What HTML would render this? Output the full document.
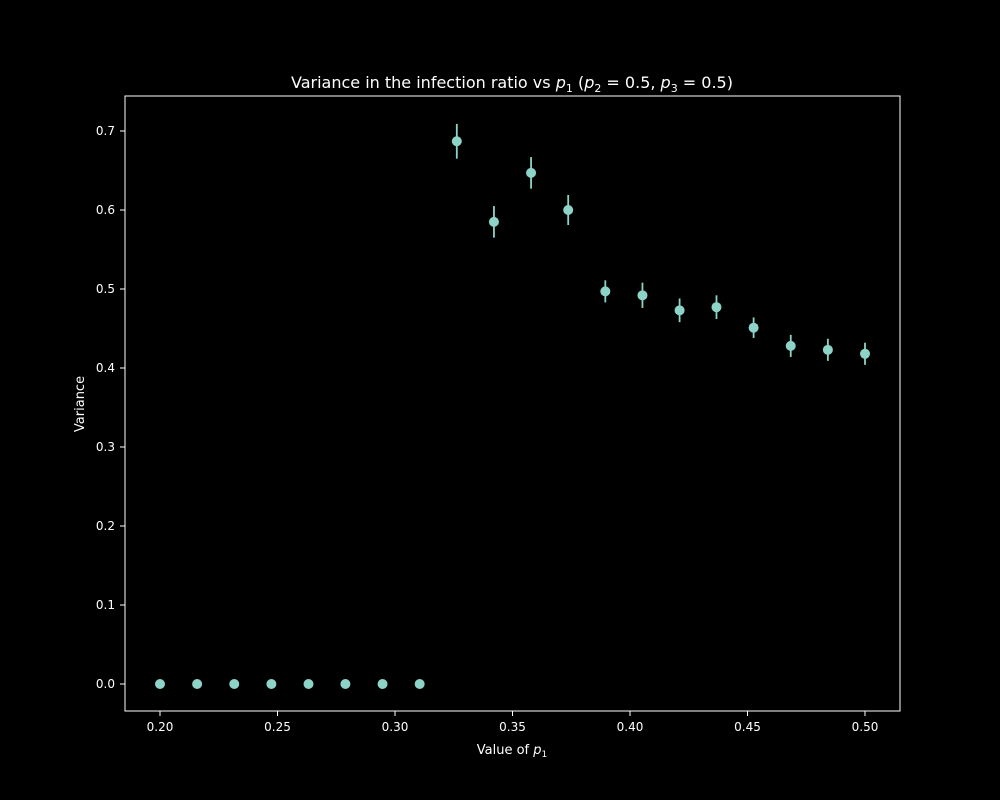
<!DOCTYPE html>
<html><head><meta charset="utf-8"><style>
html,body{margin:0;padding:0;background:#000;}
svg{display:block;font-family:"DejaVu Sans","Liberation Sans",sans-serif;}
</style></head><body>
<svg id="chart" width="1000" height="800" viewBox="0 0 1000 800">
<rect x="0" y="0" width="1000" height="800" fill="#000"/>
<text x="512" y="88" fill="#fff" font-size="16" text-anchor="middle">Variance in the infection ratio vs <tspan font-style="italic">p</tspan><tspan font-size="11" dy="4">1</tspan><tspan dy="-4"> (</tspan><tspan font-style="italic">p</tspan><tspan font-size="11" dy="4">2</tspan><tspan dy="-4"> = 0.5, </tspan><tspan font-style="italic">p</tspan><tspan font-size="11" dy="4">3</tspan><tspan dy="-4"> = 0.5)</tspan></text>
<g id="axes"></g>
<g id="marks"></g>
<rect x="125" y="96" width="775" height="615" fill="none" stroke="#fff" stroke-width="1"/>
<text x="512" y="754" fill="#fff" font-size="13" text-anchor="middle">Value of <tspan font-style="italic">p</tspan><tspan font-size="9" dy="3">1</tspan></text>
<text x="0" y="0" fill="#fff" font-size="13" text-anchor="middle" transform="translate(84,404) rotate(-90)">Variance</text>
</svg>
<script>
const xValues=[0.2,0.2158,0.2316,0.2474,0.2632,0.2789,0.2947,0.3105,0.3263,0.3421,0.3579,0.3737,0.3895,0.4053,0.4211,0.4368,0.4526,0.4684,0.4842,0.5];
const yValues=[0,0,0,0,0,0,0,0,0.687,0.585,0.647,0.600,0.497,0.492,0.473,0.477,0.451,0.428,0.423,0.418];
const yErrors=[0,0,0,0,0,0,0,0,0.022,0.020,0.020,0.019,0.014,0.016,0.015,0.015,0.013,0.014,0.014,0.014];
const xTicks=[0.20,0.25,0.30,0.35,0.40,0.45,0.50];
const yTicks=[0.0,0.1,0.2,0.3,0.4,0.5,0.6,0.7];
const NS='http://www.w3.org/2000/svg';
function xs(v){return 160+(v-0.2)*(705/0.3);}
function ys(v){return 684-v*790;}
const axes=document.getElementById('axes'),marks=document.getElementById('marks');
function mk(tag,attrs,parent){const e=document.createElementNS(NS,tag);for(const k in attrs)e.setAttribute(k,attrs[k]);parent.appendChild(e);return e;}
xTicks.forEach(t=>{
  const x=xs(t);
  const l=mk('line',{x1:x,x2:x,y1:711,y2:716,stroke:'#fff'},axes);
  
  
  const tx=mk('text',{x:x,y:731,fill:'#fff','font-size':12,'text-anchor':'middle'},axes);
  tx.textContent=t.toFixed(2);
  
  
});
yTicks.forEach(t=>{
  const y=ys(t);
  const l=mk('line',{x1:120,x2:125,y1:y,y2:y,stroke:'#fff'},axes);
  
  
  const tx=mk('text',{x:115,y:y+4,fill:'#fff','font-size':12,'text-anchor':'end'},axes);
  tx.textContent=t.toFixed(1);
  
  
});
xValues.forEach((xv,i)=>{
  const x=xs(xv),y=ys(yValues[i]);
  if(yErrors[i]>0){
    const e=mk('line',{x1:x,x2:x,y1:ys(yValues[i]+yErrors[i]),y2:ys(yValues[i]-yErrors[i]),stroke:'#8dd3c7','stroke-width':1.8},marks);
    
    
  }
  const c=mk('circle',{cx:x,cy:y,r:5,fill:'#8dd3c7'},marks);
  
  
});
</script>
</body></html>
